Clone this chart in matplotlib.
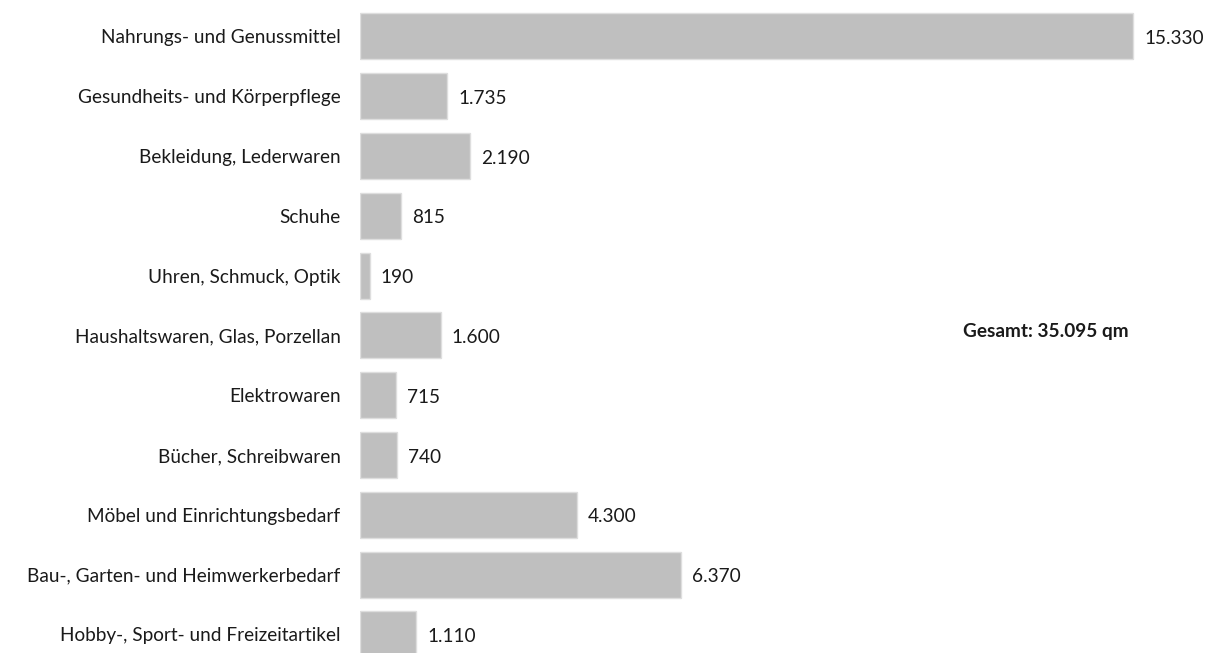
import matplotlib.pyplot as plt

plt.rcParams['font.family'] = ['Lato', 'DejaVu Sans']

categories = ["Nahrungs- und Genussmittel", "Gesundheits- und Körperpflege",
              "Bekleidung, Lederwaren", "Schuhe", "Uhren, Schmuck, Optik",
              "Haushaltswaren, Glas, Porzellan", "Elektrowaren",
              "Bücher, Schreibwaren", "Möbel und Einrichtungsbedarf",
              "Bau-, Garten- und Heimwerkerbedarf",
              "Hobby-, Sport- und Freizeitartikel"]
values = [15330, 1735, 2190, 815, 190, 1600, 715, 740, 4300, 6370, 1110]
total_label = "Gesamt: 35.095 qm"


def de_format(v):
    return f"{v:,}".replace(",", ".")


fs = 13.7
fig = plt.figure(figsize=(12.07, 6.53), dpi=100)
ax = fig.add_axes([360/1207, 0, 847/1207, 1])

ypos = list(range(len(categories)))
ax.barh(ypos, values, height=0.77, color="#bfbfbf", edgecolor="#dedede", linewidth=1)

for y, v in zip(ypos, values):
    ax.annotate(de_format(v), (v, y), xytext=(8, -1.5), textcoords="offset points",
                va="center", ha="left", fontsize=fs, color="#1a1a1a")

ax.set_xlim(0, 16800)
ax.set_ylim(10.31, -0.61)
ax.set_yticks(ypos)
ax.set_yticklabels(categories, fontsize=fs, color="#1a1a1a")
ax.tick_params(axis="y", length=0, pad=14)
ax.set_xticks([])
for s in ax.spines.values():
    s.set_visible(False)

ax.text(0.81, 0.492, total_label, transform=ax.transAxes, ha="center", va="center",
        fontsize=fs, fontweight="bold", color="#1a1a1a")

fig.savefig("out.png", dpi=100)
